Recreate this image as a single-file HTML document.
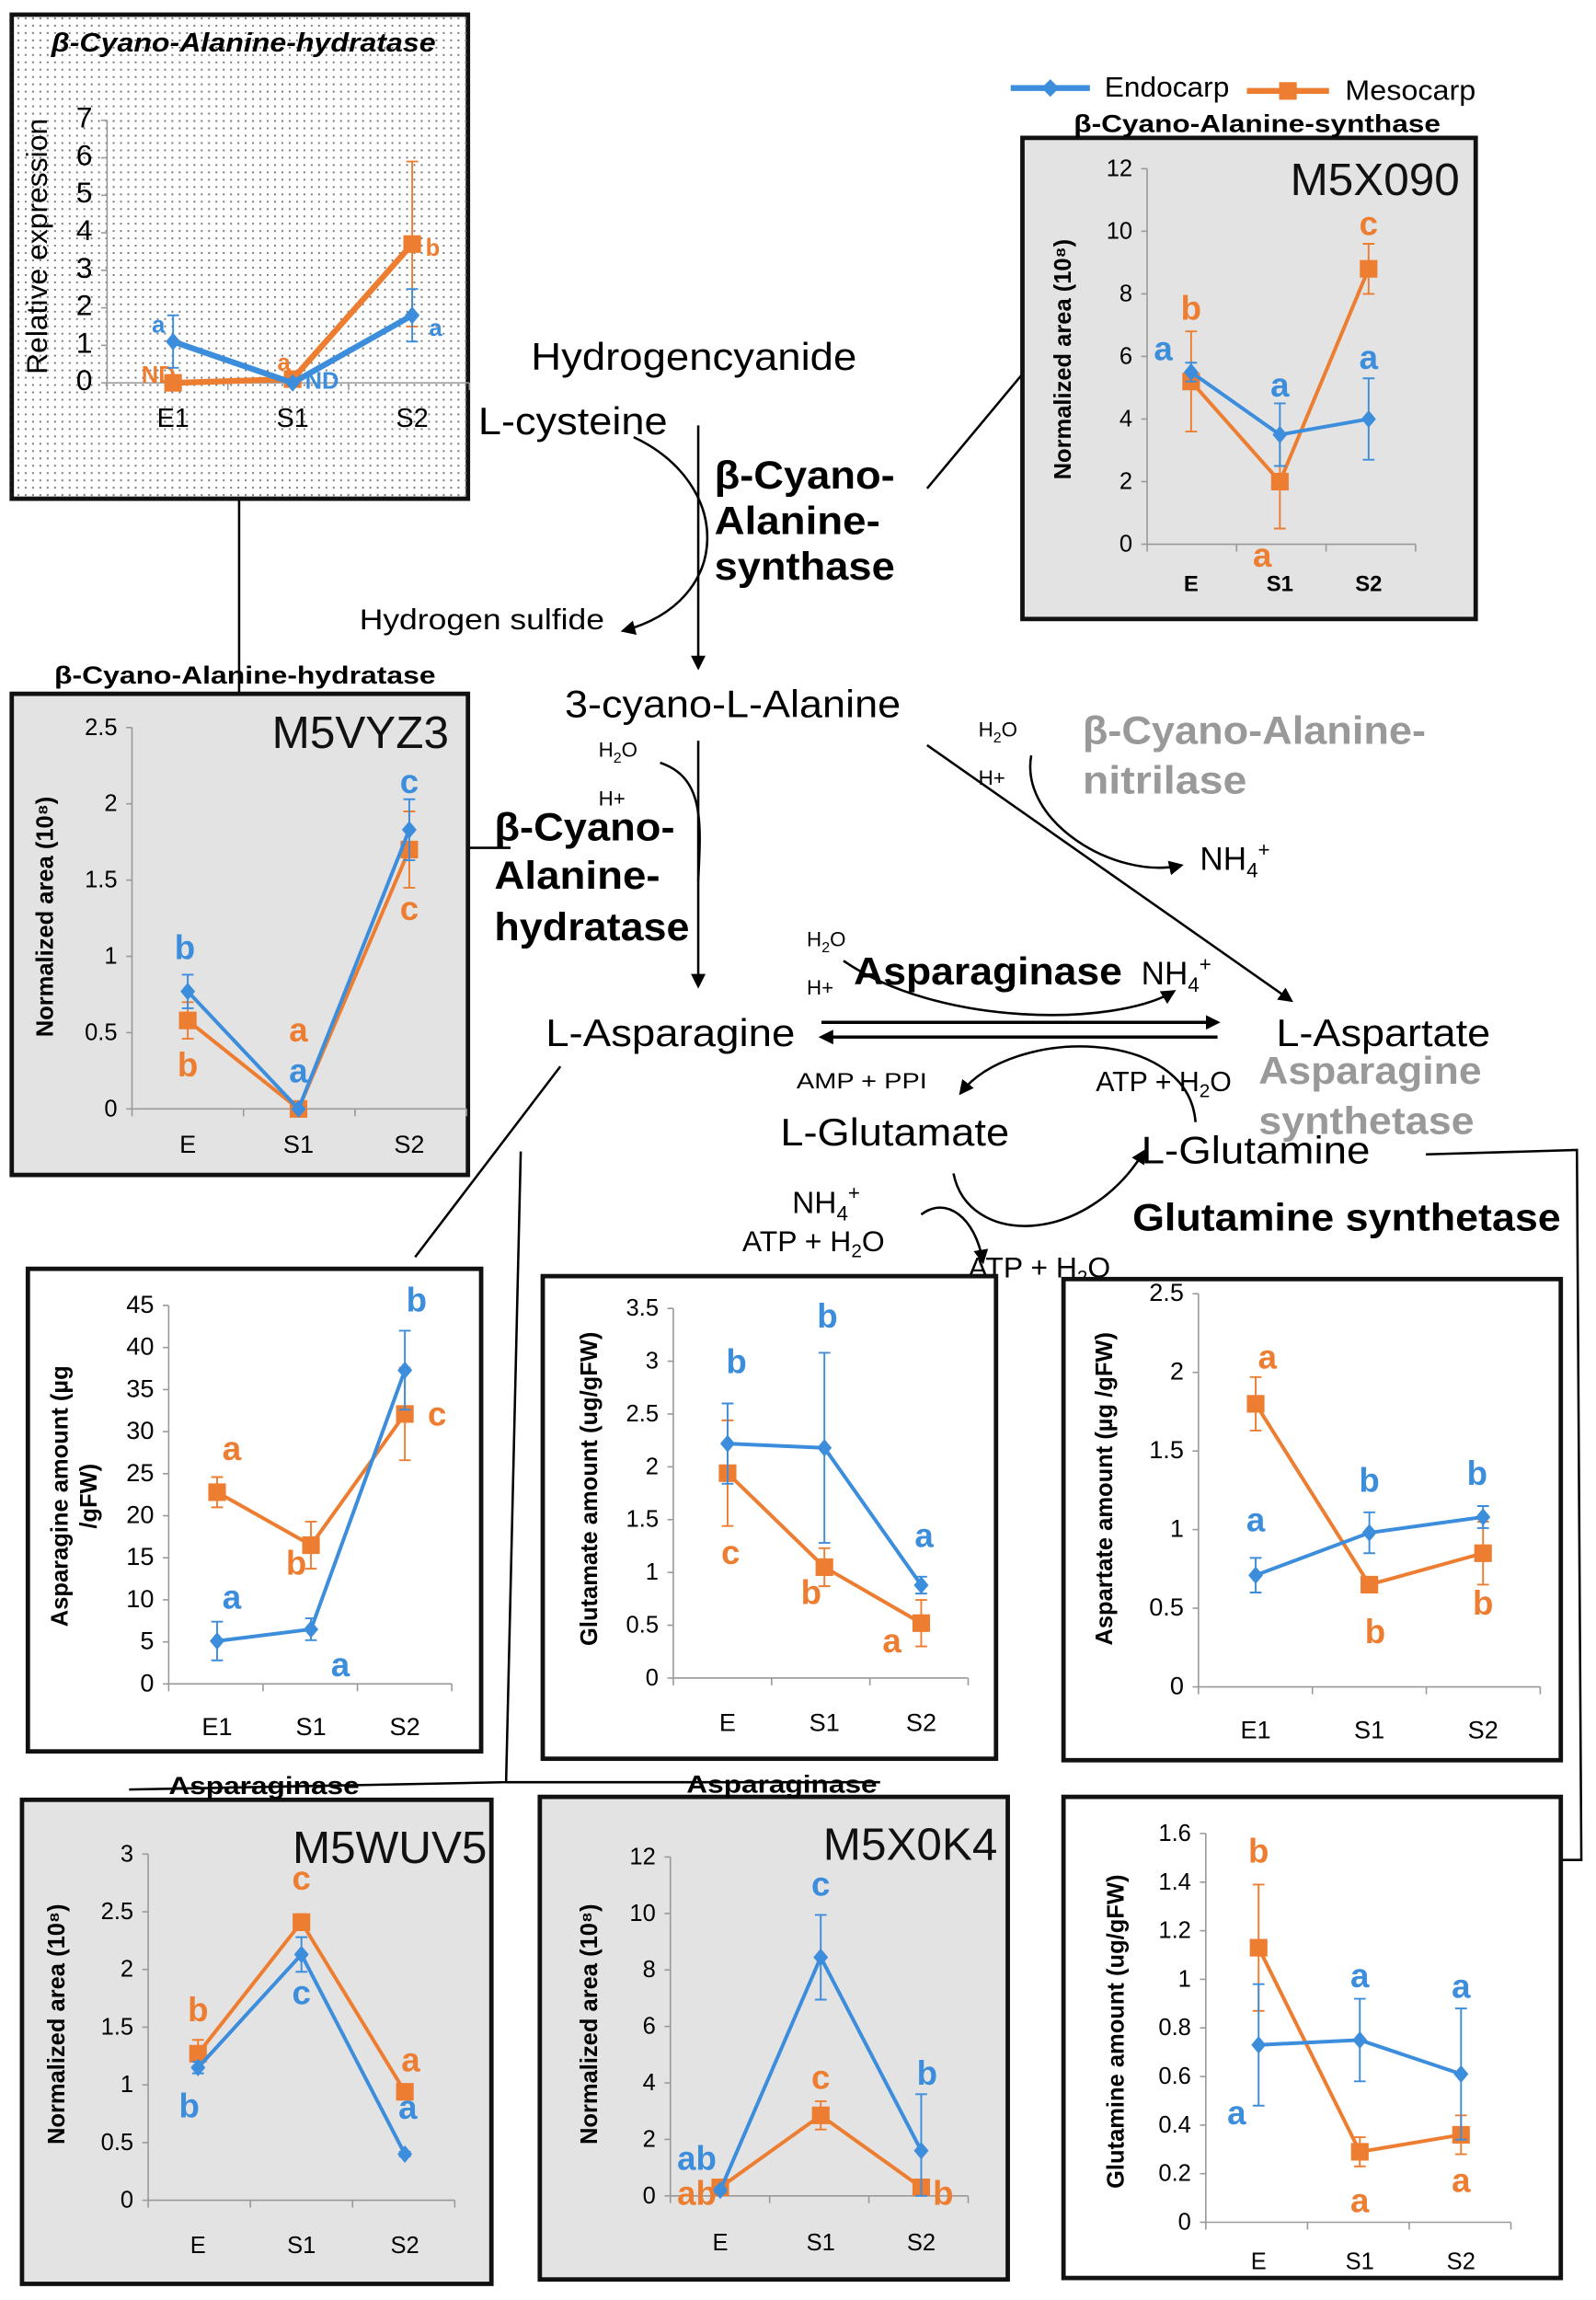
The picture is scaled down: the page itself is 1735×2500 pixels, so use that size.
<!DOCTYPE html>
<html><head><meta charset="utf-8">
<style>
html,body{margin:0;padding:0;background:#fff;}
svg{display:block;font-family:"Liberation Sans",Arial,sans-serif;}
</style></head>
<body>
<svg id="fig" width="1735" height="2500" viewBox="0 0 1088 1568" preserveAspectRatio="none" xmlns="http://www.w3.org/2000/svg">
<defs>
<pattern id="dots" width="5" height="5" patternUnits="userSpaceOnUse"><circle cx="2.5" cy="2.5" r="0.7" fill="#777"/></pattern>
<marker id="ah" markerWidth="10" markerHeight="10" refX="8" refY="5" orient="auto" markerUnits="userSpaceOnUse"><path d="M0,0 L10,5 L0,10 z" fill="#000"/></marker>
</defs>

<!-- legend -->
<g>
<line x1="689" y1="60" x2="743" y2="60" stroke="#3c8ddc" stroke-width="4"/>
<path d="M716,54 L722,60 L716,66 L710,60z" fill="#3c8ddc"/>
<text x="753" y="66" font-size="19" textLength="85" lengthAdjust="spacingAndGlyphs">Endocarp</text>
<line x1="850" y1="62" x2="906" y2="62" stroke="#ed7d31" stroke-width="4"/>
<rect x="872" y="56" width="12" height="12" fill="#ed7d31"/>
<text x="917" y="68" font-size="19" textLength="89" lengthAdjust="spacingAndGlyphs">Mesocarp</text>
</g>

<!-- pathway text -->
<g fill="#000" lengthAdjust="spacingAndGlyphs">
<text x="362" y="252" font-size="26" textLength="222" lengthAdjust="spacingAndGlyphs">Hydrogencyanide</text>
<text x="326" y="296" font-size="26" textLength="129" lengthAdjust="spacingAndGlyphs">L-cysteine</text>
<text x="487" y="333" font-size="27" font-weight="bold" textLength="123" lengthAdjust="spacingAndGlyphs">β-Cyano-</text>
<text x="487" y="364" font-size="27" font-weight="bold" textLength="113" lengthAdjust="spacingAndGlyphs">Alanine-</text>
<text x="487" y="395" font-size="27" font-weight="bold" textLength="123" lengthAdjust="spacingAndGlyphs">synthase</text>
<text x="245" y="429" font-size="20" textLength="167" lengthAdjust="spacingAndGlyphs">Hydrogen sulfide</text>
<text x="385" y="489" font-size="26" textLength="229" lengthAdjust="spacingAndGlyphs">3-cyano-L-Alanine</text>
<text x="408" y="516" font-size="14">H<tspan font-size="10" dy="4">2</tspan><tspan dy="-4">O</tspan></text>
<text x="408" y="549" font-size="14">H+</text>
<text x="337" y="573" font-size="27" font-weight="bold" textLength="123" lengthAdjust="spacingAndGlyphs">β-Cyano-</text>
<text x="337" y="606" font-size="27" font-weight="bold" textLength="113" lengthAdjust="spacingAndGlyphs">Alanine-</text>
<text x="337" y="641" font-size="27" font-weight="bold" textLength="133" lengthAdjust="spacingAndGlyphs">hydratase</text>
<text x="667" y="502" font-size="14">H<tspan font-size="10" dy="4">2</tspan><tspan dy="-4">O</tspan></text>
<text x="667" y="535" font-size="14">H+</text>
<text x="738" y="507" font-size="27" font-weight="bold" fill="#999" textLength="234" lengthAdjust="spacingAndGlyphs">β-Cyano-Alanine-</text>
<text x="738" y="541" font-size="27" font-weight="bold" fill="#999" textLength="112" lengthAdjust="spacingAndGlyphs">nitrilase</text>
<text x="818" y="593" font-size="22">NH<tspan font-size="14" dy="5">4</tspan><tspan font-size="14" dy="-14">+</tspan></text>
<text x="550" y="645" font-size="14">H<tspan font-size="10" dy="4">2</tspan><tspan dy="-4">O</tspan></text>
<text x="550" y="678" font-size="14">H+</text>
<text x="582" y="671" font-size="26" font-weight="bold" textLength="183" lengthAdjust="spacingAndGlyphs">Asparaginase</text>
<text x="778" y="671" font-size="22">NH<tspan font-size="14" dy="5">4</tspan><tspan font-size="14" dy="-14">+</tspan></text>
<text x="372" y="713" font-size="26" textLength="170" lengthAdjust="spacingAndGlyphs">L-Asparagine</text>
<text x="870" y="713" font-size="26" textLength="146" lengthAdjust="spacingAndGlyphs">L-Aspartate</text>
<text x="858" y="739" font-size="26" font-weight="bold" fill="#999" textLength="152" lengthAdjust="spacingAndGlyphs">Asparagine</text>
<text x="858" y="773" font-size="26" font-weight="bold" fill="#999" textLength="147" lengthAdjust="spacingAndGlyphs">synthetase</text>
<text x="543" y="742" font-size="15" textLength="89" lengthAdjust="spacingAndGlyphs">AMP  +  PPI</text>
<text x="747" y="744" font-size="19">ATP + H<tspan font-size="13" dy="4">2</tspan><tspan dy="-4">O</tspan></text>
<text x="532" y="781" font-size="26" textLength="156" lengthAdjust="spacingAndGlyphs">L-Glutamate</text>
<text x="778" y="793" font-size="26" textLength="156" lengthAdjust="spacingAndGlyphs">L-Glutamine</text>
<text x="540" y="827" font-size="21">NH<tspan font-size="14" dy="5">4</tspan><tspan font-size="14" dy="-14">+</tspan></text>
<text x="506" y="853" font-size="20">ATP + H<tspan font-size="13" dy="4">2</tspan><tspan dy="-4">O</tspan></text>
<text x="660" y="871" font-size="20">ATP + H<tspan font-size="13" dy="4">2</tspan><tspan dy="-4">O</tspan></text>
<text x="772" y="839" font-size="26" font-weight="bold" textLength="292" lengthAdjust="spacingAndGlyphs">Glutamine synthetase</text>
</g>

<!-- arrows & connectors -->
<g fill="none" stroke="#000" stroke-width="1.6">
<line x1="476" y1="290" x2="476" y2="455" marker-end="url(#ah)"/>
<path d="M432,298 C500,330 500,410 425,430" marker-end="url(#ah)"/>
<line x1="476" y1="505" x2="476" y2="672" marker-end="url(#ah)"/>
<path d="M450,520 C480,530 478,560 476,600"/>
<path d="M703,515 C695,560 760,600 805,590" marker-end="url(#ah)"/>
<line x1="632" y1="508" x2="880" y2="682" marker-end="url(#ah)"/>
<path d="M575,655 C640,700 760,700 800,676" marker-end="url(#ah)"/>
<line x1="560" y1="697" x2="830" y2="697" stroke-width="2.2" marker-end="url(#ah)"/>
<line x1="830" y1="707" x2="560" y2="707" stroke-width="2.2" marker-end="url(#ah)"/>
<path d="M815,765 C810,700 690,700 655,745" marker-end="url(#ah)"/>
<path d="M650,800 C660,850 740,850 780,785" marker-end="url(#ah)"/>
<path d="M628,828 C645,815 665,830 670,860" marker-end="url(#ah)"/>
<line x1="697" y1="255" x2="632" y2="333"/>
<line x1="163" y1="340" x2="163" y2="473"/>
<line x1="319" y1="578" x2="348" y2="578"/>
<line x1="382" y1="727" x2="283" y2="857"/>
<polyline points="355,785 345,1215 88,1220"/>
<line x1="345" y1="1215" x2="600" y2="1215"/>
<polyline points="972,787 1075,784 1078,1268 1063,1268"/>
</g>

<g id="charts"></g>
</svg>

<script>
// ---- data arrays (top-level) ----
const catsA = ['E1','S1','S2'];
const endoA = [1.1, 0.0, 1.8];
const endoErrA = [0.7, 0, 0.7];
const mesoA = [0.0, 0.1, 3.7];
const mesoErrA = [0, 0, 2.2];
const ticksA = [0,1,2,3,4,5,6,7];
const endoLetA = ['a','ND','a'];
const mesoLetA = ['ND','a','b'];

const catsB = ['E','S1','S2'];
const endoB = [5.5, 3.5, 4.0];
const endoErrB = [0.3, 1.0, 1.3];
const mesoB = [5.2, 2.0, 8.8];
const mesoErrB = [1.6, 1.5, 0.8];
const ticksB = [0,2,4,6,8,10,12];
const endoLetB = ['a','a','a'];
const mesoLetB = ['b','a','c'];

const catsC = ['E','S1','S2'];
const endoC = [0.77, 0.0, 1.83];
const endoErrC = [0.11, 0, 0.2];
const mesoC = [0.58, 0.0, 1.70];
const mesoErrC = [0.12, 0, 0.25];
const ticksC = [0,0.5,1,1.5,2,2.5];
const endoLetC = ['b','a','c'];
const mesoLetC = ['b','a','c'];

const catsD = ['E1','S1','S2'];
const endoD = [5.1, 6.5, 37.3];
const endoErrD = [2.3, 1.3, 4.7];
const mesoD = [22.8, 16.5, 32.1];
const mesoErrD = [1.8, 2.8, 5.5];
const ticksD = [0,5,10,15,20,25,30,35,40,45];
const endoLetD = ['a','a','b'];
const mesoLetD = ['a','b','c'];

const catsE = ['E','S1','S2'];
const endoE = [2.22, 2.18, 0.88];
const endoErrE = [0.38, 0.9, 0.08];
const mesoE = [1.94, 1.05, 0.52];
const mesoErrE = [0.5, 0.18, 0.22];
const ticksE = [0,0.5,1,1.5,2,2.5,3,3.5];
const endoLetE = ['b','b','a'];
const mesoLetE = ['c','b','a'];

const catsF = ['E1','S1','S2'];
const endoF = [0.71, 0.98, 1.08];
const endoErrF = [0.11, 0.13, 0.07];
const mesoF = [1.80, 0.65, 0.85];
const mesoErrF = [0.17, 0.05, 0.2];
const ticksF = [0,0.5,1,1.5,2,2.5];
const endoLetF = ['a','b','b'];
const mesoLetF = ['a','b','b'];

const catsG = ['E','S1','S2'];
const endoG = [1.15, 2.13, 0.40];
const endoErrG = [0.05, 0.15, 0.02];
const mesoG = [1.27, 2.41, 0.94];
const mesoErrG = [0.12, 0.07, 0.03];
const ticksG = [0,0.5,1,1.5,2,2.5,3];
const endoLetG = ['b','c','a'];
const mesoLetG = ['b','c','a'];

const catsH = ['E','S1','S2'];
const endoH = [0.2, 8.45, 1.6];
const endoErrH = [0.1, 1.5, 2.0];
const mesoH = [0.3, 2.85, 0.3];
const mesoErrH = [0.1, 0.5, 0.1];
const ticksH = [0,2,4,6,8,10,12];
const endoLetH = ['ab','c','b'];
const mesoLetH = ['ab','c','b'];

const catsI = ['E','S1','S2'];
const endoI = [0.73, 0.75, 0.61];
const endoErrI = [0.25, 0.17, 0.27];
const mesoI = [1.13, 0.29, 0.36];
const mesoErrI = [0.26, 0.06, 0.08];
const ticksI = [0,0.2,0.4,0.6,0.8,1,1.2,1.4,1.6];
const endoLetI = ['a','a','a'];
const mesoLetI = ['b','a','a'];

// ---- layout ----
const BLUE = '#3c8ddc', ORANGE = '#ed7d31';
const NS = 'http://www.w3.org/2000/svg';
const root = document.getElementById('charts');
function mk(tag, attrs, parent){
  const e = document.createElementNS(NS, tag);
  for (const k in attrs) e.setAttribute(k, attrs[k]);
  (parent||root).appendChild(e);
  return e;
}
function txt(parent, x, y, s, size, extra){
  const t = mk('text', Object.assign({x:x, y:y, 'font-size':size}, extra||{}), parent);
  t.textContent = s;
  return t;
}

function chart(p){
  const g = mk('g', {});
  
  
  const box = mk('rect', {x:p.bx, y:p.by, width:p.bw, height:p.bh, fill:p.fill, stroke:'#111', 'stroke-width':3}, g);
  
  
  if (p.dotted) mk('rect', {x:p.bx, y:p.by, width:p.bw, height:p.bh, fill:'url(#dots)'}, g);
  const ymax = p.ticks[p.ticks.length-1];
  const Y = v => p.y0 - (v/ymax)*(p.y0 - p.ytop);
  const X = i => p.cx0 + i*p.dx;
  mk('line', {x1:p.ax, y1:p.ytop, x2:p.ax, y2:p.y0, stroke:'#999', 'stroke-width':1}, g);
  mk('line', {x1:p.ax, y1:p.y0, x2:p.axEnd, y2:p.y0, stroke:'#999', 'stroke-width':1}, g);
  p.ticks.forEach(t => {
    mk('line', {x1:p.ax-4, y1:Y(t), x2:p.ax, y2:Y(t), stroke:'#999'}, g);
    const l = txt(g, p.ax-10, Y(t)+5, String(t), p.tfs||16, {'text-anchor':'end'});
    
    
  });
  for (let i=0;i<=p.cats.length;i++){
    const xx = p.ax + i*(p.axEnd-p.ax)/p.cats.length;
    mk('line', {x1:xx, y1:p.y0, x2:xx, y2:p.y0+5, stroke:'#999'}, g);
  }
  p.cats.forEach((c,i) => {
    const l = txt(g, X(i), p.catY, c, p.cfs||17, {'text-anchor':'middle', 'font-weight':p.catBold?'bold':'normal'});
    
    
  });
  const yt = mk('text', {transform:'translate('+p.ytx+','+p.yty+') rotate(-90)', 'text-anchor':'middle', 'font-size':p.ytfs||16, 'font-weight':p.ytBold===false?'normal':'bold'}, g);
  
  
  p.ytitle.forEach((s,k) => { const ts = mk('tspan', {x:0, dy:k===0?0:20}, yt); ts.textContent = s; });
  if (p.code){
    const c = txt(g, p.codeX, p.codeY, p.code, 31, {'text-anchor':'end', fill:'#111'});
    
    
  }
  if (p.title){
    const t = txt(g, p.titleX, p.titleY, p.title, p.titleFs||17, {'text-anchor':'middle', 'font-weight':'bold', 'font-style':p.titleItalic?'italic':'normal'});
    if (p.titleLen){ t.setAttribute('textLength', p.titleLen); t.setAttribute('lengthAdjust','spacingAndGlyphs'); }
    
    
  }
  const series = [
    {vals:p.meso, err:p.mesoErr, col:ORANGE, sq:true, lets:p.mesoLet, off:p.mesoOff, nm:'mesocarp'},
    {vals:p.endo, err:p.endoErr, col:BLUE, sq:false, lets:p.endoLet, off:p.endoOff, nm:'endocarp'}
  ];
  series.forEach(s => {
    s.vals.forEach((v,i) => {
      if (s.err[i] > 0){
        const e = mk('path', {d:'M'+X(i)+','+Y(v+s.err[i])+' V'+Y(Math.max(0,v-s.err[i]))+' M'+(X(i)-4)+','+Y(v+s.err[i])+' h8 M'+(X(i)-4)+','+Y(Math.max(0,v-s.err[i]))+' h8', stroke:s.col, 'stroke-width':1.2, fill:'none'}, g);
        
        
      }
    });
    const ln = mk('polyline', {points:s.vals.map((v,i)=>X(i)+','+Y(v)).join(' '), fill:'none', stroke:s.col, 'stroke-width':p.lw||2.5}, g);
    
    
    s.vals.forEach((v,i) => {
      let m;
      if (s.sq) m = mk('rect', {x:X(i)-6, y:Y(v)-6, width:12, height:12, fill:s.col}, g);
      else m = mk('path', {d:'M'+X(i)+','+(Y(v)-6)+' l5,6 l-5,6 l-5,-6z', fill:s.col}, g);
      
      
      const o = s.off[i];
      const lt = txt(g, X(i)+o[0], Y(v)+o[1], s.lets[i], p.lfs||23, {fill:s.col, 'font-weight':'bold', 'text-anchor':'middle'});
      
      
    });
  });
}

chart({name:'chart-cah-relative-expression', bx:8, by:10, bw:311, bh:330, fill:'#fff', dotted:true,
  ax:73, axEnd:320, y0:261, ytop:82, ticks:ticksA, cats:catsA, cx0:118, dx:81.5, catY:291, cfs:18, tfs:20,
  ytitle:['Relative expression'], ytx:32, yty:168, ytfs:20, ytBold:false,
  title:'β-Cyano-Alanine-hydratase', titleX:166, titleY:35, titleItalic:true, titleFs:18, titleLen:262,
  endo:endoA, endoErr:endoErrA, meso:mesoA, mesoErr:mesoErrA, lw:4, lfs:16,
  endoLet:endoLetA, mesoLet:mesoLetA,
  endoOff:[[-10,-6],[20,4],[16,14]], mesoOff:[[-10,0],[-6,-6],[14,8]]});

chart({name:'chart-m5x090', bx:697, by:94, bw:309, bh:328, fill:'#e3e3e3',
  ax:782, axEnd:965, y0:371, ytop:115, ticks:ticksB, cats:catsB, cx0:812, dx:60.5, catY:403, cfs:15, catBold:true,
  ytitle:['Normalized area (10⁸)'], ytx:730, yty:245,
  code:'M5X090', codeX:995, codeY:133,
  title:'β-Cyano-Alanine-synthase', titleX:857, titleY:90, titleFs:17, titleLen:250,
  endo:endoB, endoErr:endoErrB, meso:mesoB, mesoErr:mesoErrB,
  endoLet:endoLetB, mesoLet:mesoLetB,
  endoOff:[[-19,-8],[0,-26],[0,-34]], mesoOff:[[0,-42],[-12,58],[0,-23]]});

chart({name:'chart-m5vyz3', bx:8, by:473, bw:311, bh:328, fill:'#e3e3e3',
  ax:90, axEnd:318, y0:756, ytop:496, ticks:ticksC, cats:catsC, cx0:128, dx:75.5, catY:786, cfs:17,
  ytitle:['Normalized area (10⁸)'], ytx:36, yty:625,
  code:'M5VYZ3', codeX:306, codeY:510,
  title:'β-Cyano-Alanine-hydratase', titleX:167, titleY:466, titleFs:17, titleLen:260,
  endo:endoC, endoErr:endoErrC, meso:mesoC, mesoErr:mesoErrC,
  endoLet:endoLetC, mesoLet:mesoLetC,
  endoOff:[[-2,-22],[0,-18],[0,-25]], mesoOff:[[0,38],[0,-46],[0,48]]});

chart({name:'chart-asparagine-amount', bx:19, by:865, bw:309, bh:329, fill:'#fff',
  ax:115, axEnd:308, y0:1148, ytop:890, ticks:ticksD, cats:catsD, cx0:148, dx:64, catY:1183, cfs:17, tfs:17,
  ytitle:['Asparagine amount (µg','/gFW)'], ytx:46, yty:1020,
  endo:endoD, endoErr:endoErrD, meso:mesoD, mesoErr:mesoErrD,
  endoLet:endoLetD, mesoLet:mesoLetD,
  endoOff:[[10,-22],[20,32],[8,-40]], mesoOff:[[10,-22],[-10,20],[22,8]]});

chart({name:'chart-glutamate-amount', bx:370, by:870, bw:309, bh:329, fill:'#fff',
  ax:459, axEnd:660, y0:1144, ytop:892, ticks:ticksE, cats:catsE, cx0:496, dx:66, catY:1180, cfs:17,
  ytitle:['Glutamate amount (ug/gFW)'], ytx:407, yty:1015,
  endo:endoE, endoErr:endoErrE, meso:mesoE, mesoErr:mesoErrE,
  endoLet:endoLetE, mesoLet:mesoLetE,
  endoOff:[[6,-48],[2,-82],[2,-26]], mesoOff:[[2,62],[-9,25],[-20,20]]});

chart({name:'chart-aspartate-amount', bx:725, by:872, bw:339, bh:328, fill:'#fff',
  ax:817, axEnd:1050, y0:1150, ytop:882, ticks:ticksF, cats:catsF, cx0:856, dx:77.5, catY:1185, cfs:17, tfs:17,
  ytitle:['Aspartate amount (µg /gFW)'], ytx:758, yty:1015,
  endo:endoF, endoErr:endoErrF, meso:mesoF, mesoErr:mesoErrF,
  endoLet:endoLetF, mesoLet:mesoLetF,
  endoOff:[[0,-30],[0,-28],[-4,-22]], mesoOff:[[8,-24],[4,40],[0,42]]});

chart({name:'chart-m5wuv5', bx:15, by:1227, bw:320, bh:330, fill:'#e3e3e3',
  ax:101, axEnd:310, y0:1500, ytop:1264, ticks:ticksG, cats:catsG, cx0:135, dx:70.5, catY:1536, cfs:16,
  ytitle:['Normalized area (10⁸)'], ytx:44, yty:1380,
  code:'M5WUV5', codeX:332, codeY:1270,
  title:'Asparaginase', titleX:180, titleY:1223, titleFs:17, titleLen:130,
  endo:endoG, endoErr:endoErrG, meso:mesoG, mesoErr:mesoErrG,
  endoLet:endoLetG, mesoLet:mesoLetG,
  endoOff:[[-6,34],[0,34],[2,-24]], mesoOff:[[0,-22],[0,-22],[4,-14]]});

chart({name:'chart-m5x0k4', bx:368, by:1225, bw:319, bh:329, fill:'#e3e3e3',
  ax:457, axEnd:660, y0:1497, ytop:1266, ticks:ticksH, cats:catsH, cx0:491, dx:68.5, catY:1534, cfs:16,
  ytitle:['Normalized area (10⁸)'], ytx:407, yty:1380,
  code:'M5X0K4', codeX:680, codeY:1268,
  title:'Asparaginase', titleX:533, titleY:1222, titleFs:17, titleLen:130,
  endo:endoH, endoErr:endoErrH, meso:mesoH, mesoErr:mesoErrH,
  endoLet:endoLetH, mesoLet:mesoLetH,
  endoOff:[[-16,-14],[0,-42],[4,-45]], mesoOff:[[-16,12],[0,-18],[15,12]]});

chart({name:'chart-glutamine-amount', bx:725, by:1225, bw:339, bh:328, fill:'#fff',
  ax:822, axEnd:1030, y0:1515, ytop:1250, ticks:ticksI, cats:catsI, cx0:858, dx:69, catY:1547, cfs:16,
  ytitle:['Glutamine amount (ug/gFW)'], ytx:766, yty:1385,
  endo:endoI, endoErr:endoErrI, meso:mesoI, mesoErr:mesoErrI,
  endoLet:endoLetI, mesoLet:mesoLetI,
  endoOff:[[-15,54],[0,-36],[0,-52]], mesoOff:[[0,-58],[0,41],[0,39]]});
</script>
</body></html>
